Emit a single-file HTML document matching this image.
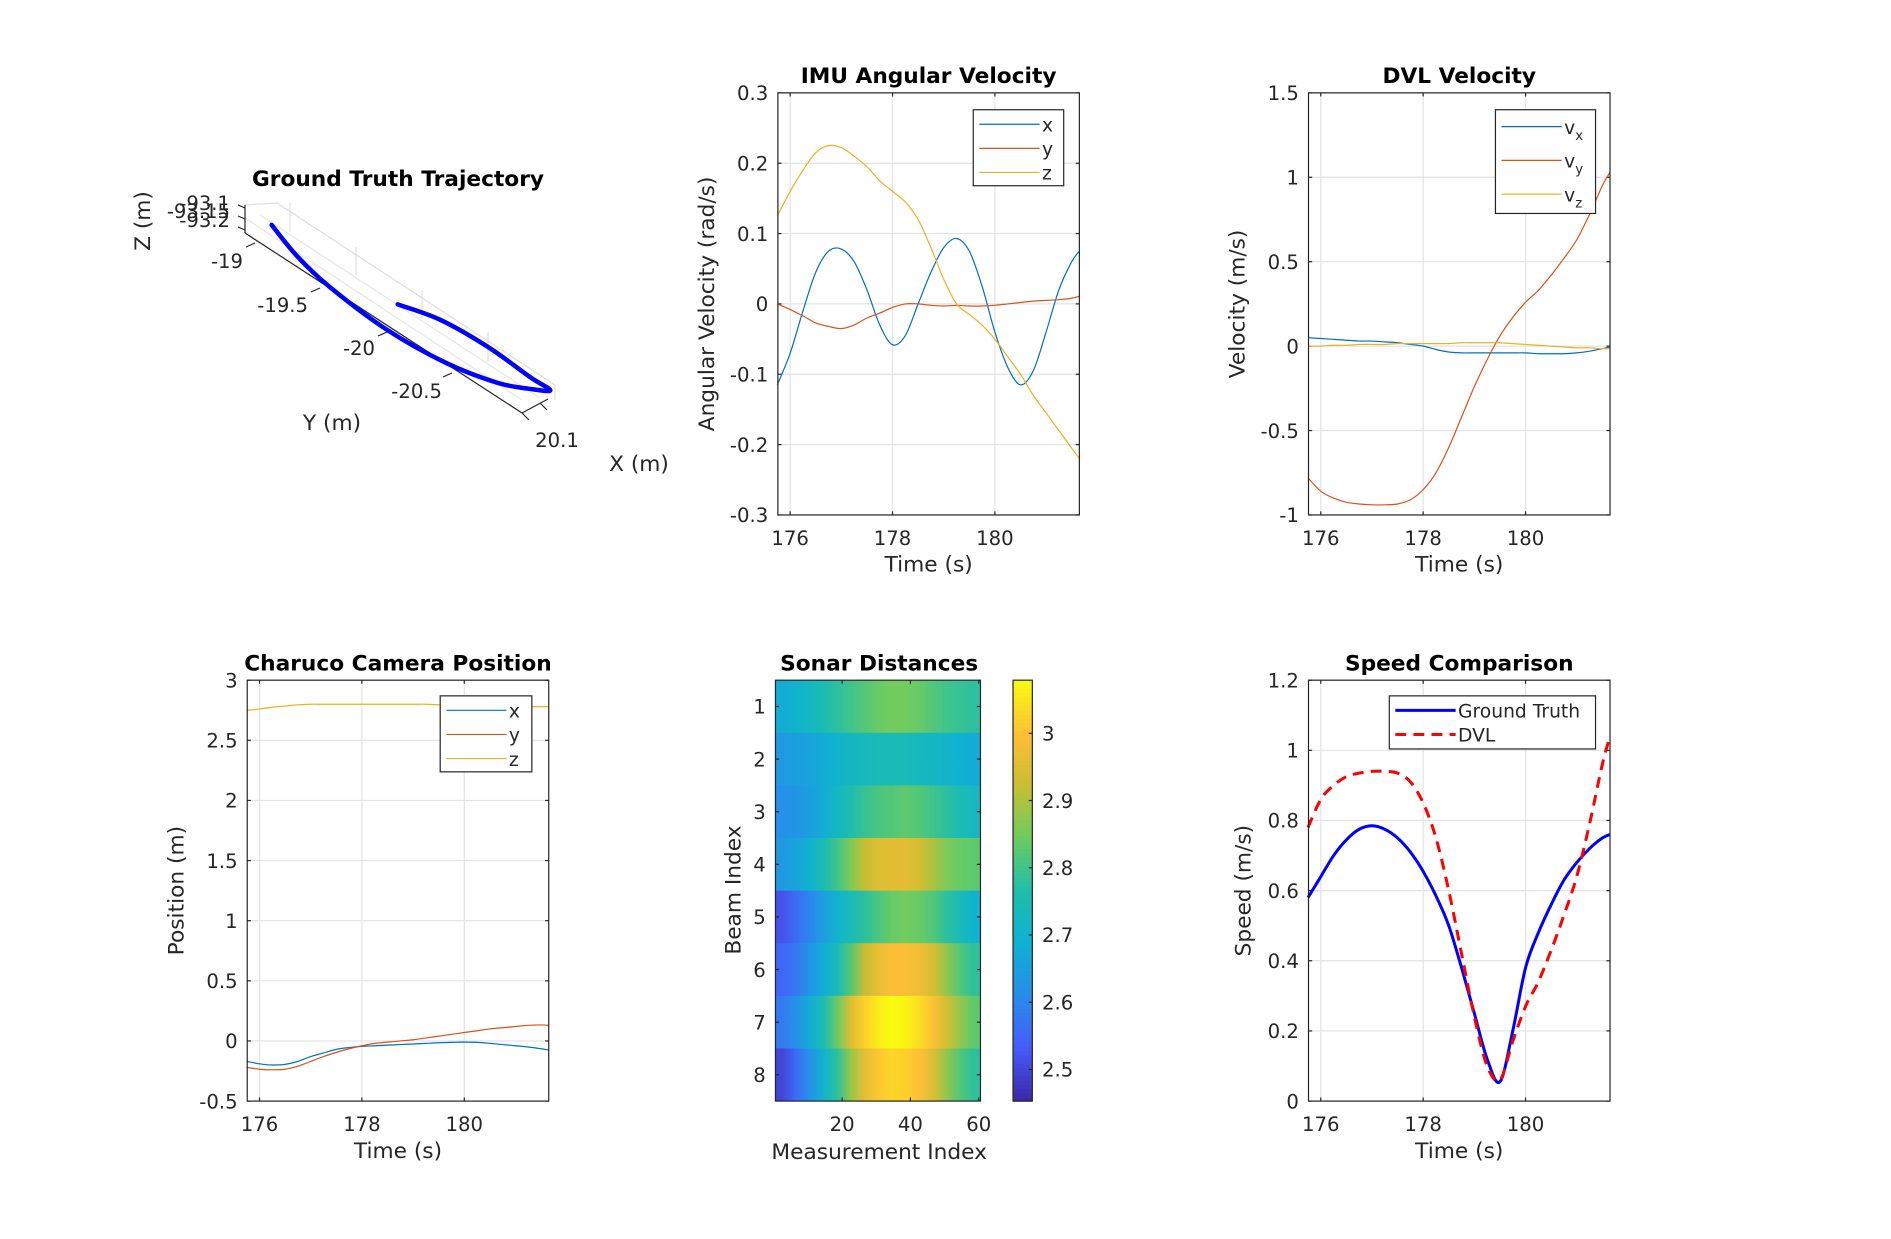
<!DOCTYPE html>
<html><head><meta charset="utf-8"><style>
html,body{margin:0;padding:0;background:#fff}
svg{display:block}
text{font-family:"DejaVu Sans","Liberation Sans",sans-serif;fill:#262626}
</style></head><body>
<svg id="fig" width="1891" height="1239" viewBox="0 0 1891 1239" xmlns="http://www.w3.org/2000/svg">
<rect width="1891" height="1239" fill="#fff"/>
<defs id="defs"></defs>
<g id="main" transform="scale(1.206)"></g>
<g id="real"></g>
</svg>
<script>
// ---------- data ----------
const timeS = [175.75,176,176.25,176.5,176.75,177,177.25,177.5,177.75,178,178.25,178.5,178.75,179,179.25,179.5,179.75,180,180.25,180.5,180.75,181,181.25,181.5,181.65];
const imuX = [-0.115,-0.07,-0.01,0.045,0.075,0.078,0.06,0.02,-0.03,-0.058,-0.045,0.0,0.045,0.08,0.093,0.075,0.025,-0.04,-0.09,-0.115,-0.095,-0.04,0.02,0.06,0.075];
const imuY = [0,-0.008,-0.017,-0.027,-0.032,-0.035,-0.03,-0.02,-0.013,-0.005,0,0,-0.002,-0.003,-0.002,-0.003,-0.003,-0.002,0,0.002,0.004,0.005,0.006,0.008,0.011];
const imuZ = [0.125,0.16,0.19,0.215,0.225,0.222,0.21,0.195,0.175,0.16,0.145,0.12,0.08,0.035,0.0,-0.015,-0.03,-0.05,-0.075,-0.1,-0.13,-0.155,-0.18,-0.205,-0.22];
const dvlVx = [0.05,0.045,0.04,0.035,0.03,0.03,0.025,0.02,0.01,0.0,-0.02,-0.035,-0.04,-0.04,-0.04,-0.04,-0.04,-0.04,-0.045,-0.045,-0.045,-0.04,-0.03,-0.015,-0.005];
const dvlVy = [-0.78,-0.86,-0.9,-0.925,-0.935,-0.94,-0.94,-0.935,-0.91,-0.85,-0.75,-0.6,-0.42,-0.24,-0.08,0.06,0.17,0.26,0.33,0.42,0.52,0.63,0.78,0.95,1.03];
const dvlVz = [0.0,0.0,0.005,0.005,0.01,0.01,0.01,0.015,0.015,0.015,0.015,0.015,0.02,0.02,0.02,0.02,0.015,0.01,0.005,0.0,-0.005,-0.01,-0.01,-0.015,-0.015];
const camX = [-0.17,-0.19,-0.2,-0.195,-0.17,-0.13,-0.1,-0.07,-0.055,-0.045,-0.04,-0.035,-0.03,-0.025,-0.02,-0.015,-0.012,-0.01,-0.012,-0.02,-0.03,-0.04,-0.05,-0.065,-0.075];
const camY = [-0.22,-0.235,-0.24,-0.235,-0.21,-0.17,-0.13,-0.095,-0.065,-0.04,-0.02,-0.01,0.0,0.01,0.025,0.04,0.055,0.07,0.085,0.1,0.11,0.12,0.13,0.133,0.13];
const camZ = [2.75,2.76,2.775,2.785,2.795,2.8,2.8,2.8,2.8,2.8,2.8,2.8,2.8,2.8,2.8,2.795,2.79,2.79,2.785,2.785,2.78,2.78,2.78,2.78,2.78];
const speedGT = [0.58,0.64,0.7,0.745,0.775,0.785,0.775,0.75,0.71,0.655,0.585,0.5,0.38,0.25,0.12,0.055,0.2,0.38,0.48,0.56,0.63,0.68,0.72,0.75,0.76];
const speedDVL = [0.78,0.86,0.9,0.925,0.935,0.94,0.94,0.935,0.91,0.85,0.75,0.6,0.42,0.24,0.1,0.06,0.17,0.27,0.34,0.43,0.53,0.64,0.79,0.96,1.04];
const timeTicks = [176,178,180];
const imuTicks = [0.3,0.2,0.1,0,-0.1,-0.2,-0.3];
const imuTickLabels = ['0.3','0.2','0.1','0','-0.1','-0.2','-0.3'];
const dvlTicks = [1.5,1,0.5,0,-0.5,-1];
const dvlTickLabels = ['1.5','1','0.5','0','-0.5','-1'];
const camTicks = [3,2.5,2,1.5,1,0.5,0,-0.5];
const camTickLabels = ['3','2.5','2','1.5','1','0.5','0','-0.5'];
const spdTicks = [1.2,1,0.8,0.6,0.4,0.2,0];
const spdTickLabels = ['1.2','1','0.8','0.6','0.4','0.2','0'];
// sonar: 8 beams x 15 samples (every 4 measurements)
const sonarRow1 = [2.68,2.7,2.72,2.75,2.78,2.8,2.82,2.84,2.85,2.85,2.84,2.82,2.8,2.79,2.78];
const sonarRow2 = [2.64,2.65,2.66,2.68,2.7,2.72,2.73,2.74,2.74,2.74,2.73,2.72,2.71,2.69,2.68];
const sonarRow3 = [2.62,2.63,2.65,2.68,2.72,2.76,2.79,2.81,2.82,2.83,2.82,2.8,2.78,2.75,2.73];
const sonarRow4 = [2.64,2.66,2.7,2.75,2.8,2.86,2.92,2.95,2.96,2.96,2.94,2.9,2.86,2.84,2.83];
const sonarRow5 = [2.52,2.56,2.6,2.65,2.7,2.74,2.78,2.81,2.84,2.85,2.84,2.82,2.78,2.74,2.7];
const sonarRow6 = [2.55,2.58,2.63,2.68,2.74,2.82,2.92,2.97,2.99,2.99,2.98,2.94,2.88,2.82,2.78];
const sonarRow7 = [2.58,2.62,2.68,2.75,2.84,2.95,3.02,3.06,3.08,3.07,3.04,3.0,2.94,2.88,2.83];
const sonarRow8 = [2.5,2.56,2.62,2.7,2.78,2.88,2.96,3.01,3.03,3.02,3.0,2.95,2.88,2.82,2.78];
const sonarRows = [sonarRow1,sonarRow2,sonarRow3,sonarRow4,sonarRow5,sonarRow6,sonarRow7,sonarRow8];
const cbarTicks = [2.5,2.6,2.7,2.8,2.9,3];
const sonarXTicks = [20,40,60];
// trajectory (m)
const trajY = [-19.02,-19.30,-19.60,-20.06,-20.48,-20.79,-20.95,-21.04,-20.89,-20.55,-20.21,-19.96];
const trajX = [20.14,20.03,19.96,19.92,19.96,20.06,20.17,20.26,20.26,20.28,20.25,20.16];

const NS='http://www.w3.org/2000/svg';
const main=document.getElementById('main');
const real=document.getElementById('real');
const defs=document.getElementById('defs');
function el(tag,attrs,parent){const e=document.createElementNS(NS,tag);for(const k in attrs)e.setAttribute(k,attrs[k]);(parent||main).appendChild(e);return e;}
function txt(s,attrs,parent){const t=el('text',attrs,parent);t.textContent=s;return t;}
const C1='#0072BD',C2='#D95319',C3='#EDB120';
const TF=16.3, LF=18, HF=18;

function axes(name,L,T,W,H,xmin,xmax,ymin,ymax,xt,xtl,yt,ytl){
  const g=el('g',{});
  
  
  const sx=v=>L+(v-xmin)/(xmax-xmin)*W, sy=v=>T+H-(v-ymin)/(ymax-ymin)*H;
  el('rect',{x:L,y:T,width:W,height:H,fill:'#fff'},g);
  xt.forEach(v=>el('line',{x1:sx(v),x2:sx(v),y1:T,y2:T+H,stroke:'#e3e3e3','stroke-width':1},g));
  yt.forEach(v=>el('line',{x1:L,x2:L+W,y1:sy(v),y2:sy(v),stroke:'#e3e3e3','stroke-width':1},g));
  xt.forEach((v,i)=>{el('line',{x1:sx(v),x2:sx(v),y1:T+H,y2:T+H-3,stroke:'#262626'},g);el('line',{x1:sx(v),x2:sx(v),y1:T,y2:T+3,stroke:'#262626'},g);
    const t=txt(xtl[i],{x:sx(v),y:T+H+25,'text-anchor':'middle','font-size':TF},g);
    
    });
  yt.forEach((v,i)=>{el('line',{x1:L,x2:L+3,y1:sy(v),y2:sy(v),stroke:'#262626'},g);el('line',{x1:L+W,x2:L+W-3,y1:sy(v),y2:sy(v),stroke:'#262626'},g);
    const t=txt(ytl[i],{x:L-8,y:sy(v)+6,'text-anchor':'end','font-size':TF},g);
    
    });
  return {g,sx,sy,L,T,W,H};
}
function frame(a){el('rect',{x:a.L,y:a.T,width:a.W,height:a.H,fill:'none',stroke:'#262626','stroke-width':1},a.g);}
function smoothPath(pts){
  let d='M'+pts[0][0].toFixed(2)+','+pts[0][1].toFixed(2);
  for(let i=0;i<pts.length-1;i++){
    const p0=pts[Math.max(0,i-1)],p1=pts[i],p2=pts[i+1],p3=pts[Math.min(pts.length-1,i+2)];
    const c1=[p1[0]+(p2[0]-p0[0])/6,p1[1]+(p2[1]-p0[1])/6],c2=[p2[0]-(p3[0]-p1[0])/6,p2[1]-(p3[1]-p1[1])/6];
    d+=` C${c1[0].toFixed(2)},${c1[1].toFixed(2)} ${c2[0].toFixed(2)},${c2[1].toFixed(2)} ${p2[0].toFixed(2)},${p2[1].toFixed(2)}`;
  }
  return d;
}
function series(a,xs,ys,color,w,name,dash){
  const p=el('path',{d:smoothPath(xs.map((x,i)=>[a.sx(x),a.sy(ys[i])])),fill:'none',stroke:color,'stroke-width':w,'stroke-linejoin':'round'},a.g);
  if(dash)p.setAttribute('stroke-dasharray',dash);
  
  
}
function labels(a,title,xl,yl,yx){
  const c=a.L+a.W/2;
  const t1=txt(title,{x:c,y:a.T-8,'text-anchor':'middle','font-size':HF,'font-weight':'bold',style:'fill:#000'},a.g);
  
  
  const t2=txt(xl,{x:c,y:a.T+a.H+47,'text-anchor':'middle','font-size':LF},a.g);
  
  
  const yy=a.T+a.H/2;
  const t3=txt(yl,{x:yx,y:yy,'text-anchor':'middle','font-size':LF,transform:`rotate(-90 ${yx} ${yy})`},a.g);
  
  
}
function legend(a,x,y,w,h,entries,rowH,lineW){
  const g=el('g',{},a.g);
  
  
  el('rect',{x,y,width:w,height:h,fill:'#fff',stroke:'#262626'},g);
  entries.forEach((e,i)=>{const yy=y+12+i*rowH+(rowH>25?2:0);
    const ln=el('line',{x1:x+5,x2:x+5+lineW,y1:yy,y2:yy,stroke:e.c,'stroke-width':e.w||1},g);
    if(e.d)ln.setAttribute('stroke-dasharray',e.d);
    
    
    const t=el('text',{x:x+lineW+7,y:yy+6,'font-size':15.5},g);
    
    
    t.innerHTML=e.t;});
}

// IMU
const xmn=175.76,xmx=181.65;
let a=axes('imu-angular-velocity-chart',645,77,250,350,xmn,xmx,-0.3,0.3,timeTicks,timeTicks.map(String),imuTicks,imuTickLabels);
series(a,timeS,imuX,C1,1,'imu-x-line');series(a,timeS,imuY,C2,1,'imu-y-line');series(a,timeS,imuZ,C3,1,'imu-z-line');
frame(a);labels(a,'IMU Angular Velocity','Time (s)','Angular Velocity (rad/s)',592);
legend(a,807,91,75,63,[{c:C1,t:'x'},{c:C2,t:'y'},{c:C3,t:'z'}],20,50);

// DVL
a=axes('dvl-velocity-chart',1085,77,250,350,xmn,xmx,-1,1.5,timeTicks,timeTicks.map(String),dvlTicks,dvlTickLabels);
series(a,timeS,dvlVx,C1,1,'dvl-vx-line');series(a,timeS,dvlVy,C2,1,'dvl-vy-line');series(a,timeS,dvlVz,C3,1,'dvl-vz-line');
frame(a);labels(a,'DVL Velocity','Time (s)','Velocity (m/s)',1032);
legend(a,1240,91,83,86,[{c:C1,t:'v<tspan font-size="11" dy="5">x</tspan>'},{c:C2,t:'v<tspan font-size="11" dy="5">y</tspan>'},{c:C3,t:'v<tspan font-size="11" dy="5">z</tspan>'}],28,50);

// Charuco
a=axes('charuco-camera-position-chart',205,564,250,349,xmn,xmx,-0.5,3,timeTicks,timeTicks.map(String),camTicks,camTickLabels);
series(a,timeS,camX,C1,1,'cam-x-line');series(a,timeS,camY,C2,1,'cam-y-line');series(a,timeS,camZ,C3,1,'cam-z-line');
frame(a);labels(a,'Charuco Camera Position','Time (s)','Position (m)',152);
legend(a,365,577,76,63,[{c:C1,t:'x'},{c:C2,t:'y'},{c:C3,t:'z'}],20,50);

// Speed
a=axes('speed-comparison-chart',1085,564,250,349,xmn,xmx,0,1.2,timeTicks,timeTicks.map(String),spdTicks,spdTickLabels);
series(a,timeS,speedGT,'#0000ff',2.5,'ground-truth-speed-line');series(a,timeS,speedDVL,'#ff0000',2.5,'dvl-speed-line','9,6');
frame(a);labels(a,'Speed Comparison','Time (s)','Speed (m/s)',1037);
legend(a,1152,577,171,44,[{c:'#0000ff',t:'Ground Truth',w:2.5},{c:'#ff0000',t:'DVL',w:2.5,d:'9,6'}],20,50);

// Sonar heatmap
function parula(t){
  const st=[[0,62,38,168],[0.13,70,92,250],[0.25,40,140,235],[0.38,15,177,210],[0.5,30,190,170],[0.63,110,204,95],[0.75,200,190,50],[0.87,254,190,55],[1,249,251,14]];
  t=Math.max(0,Math.min(1,t));
  for(let i=1;i<st.length;i++){if(t<=st[i][0]){const a0=st[i-1],b=st[i],f=(t-a0[0])/(b[0]-a0[0]);
    return `rgb(${Math.round(a0[1]+f*(b[1]-a0[1]))},${Math.round(a0[2]+f*(b[2]-a0[2]))},${Math.round(a0[3]+f*(b[3]-a0[3]))})`;}}
  return 'rgb(249,251,14)';
}
const cmin=2.453,cmax=3.079;
const hg=el('g',{});


const HL=643,HT=564,HW=170,HH=349;
const hx=v=>HL+(v-0.5)/60*HW, hy=v=>HT+(v-0.5)/8*HH;
sonarRows.forEach((row,r)=>{
  const gr=el('linearGradient',{id:'row'+r,x1:0,x2:1,y1:0,y2:0},defs);
  row.forEach((v,c)=>el('stop',{offset:((c*4+2.5-0.5)/60).toFixed(4),'stop-color':parula((v-cmin)/(cmax-cmin))},gr));
  const cell=el('rect',{x:HL,y:hy(r+0.5).toFixed(2),width:HW,height:(hy(r+1.5)-hy(r+0.5)+0.3).toFixed(2),fill:`url(#row${r})`},hg);
  
  
});
el('rect',{x:HL,y:HT,width:HW,height:HH,fill:'none',stroke:'#262626'},hg);
sonarXTicks.forEach(v=>{el('line',{x1:hx(v),x2:hx(v),y1:HT+HH,y2:HT+HH-3,stroke:'#262626'},hg);el('line',{x1:hx(v),x2:hx(v),y1:HT,y2:HT+3,stroke:'#262626'},hg);
  const t=txt(String(v),{x:hx(v),y:HT+HH+25,'text-anchor':'middle','font-size':TF},hg);
  
  });
for(let b=1;b<=8;b++){el('line',{x1:HL,x2:HL+3,y1:hy(b),y2:hy(b),stroke:'#262626'},hg);el('line',{x1:HL+HW,x2:HL+HW-3,y1:hy(b),y2:hy(b),stroke:'#262626'},hg);
  const t=txt(String(b),{x:HL-8,y:hy(b)+6,'text-anchor':'end','font-size':TF},hg);
  
  }
let tt=txt('Sonar Distances',{x:729,y:556,'text-anchor':'middle','font-size':HF,'font-weight':'bold',style:'fill:#000'},hg);


tt=txt('Measurement Index',{x:729,y:961,'text-anchor':'middle','font-size':LF},hg);


tt=txt('Beam Index',{x:614,y:738,'text-anchor':'middle','font-size':LF,transform:'rotate(-90 614 738)'},hg);


// colorbar
const cb=el('g',{});


const CL=840,CW=16;
const cy=v=>HT+HH-(v-cmin)/(cmax-cmin)*HH;
for(let i=0;i<100;i++){const v0=cmin+(cmax-cmin)*i/100,v1=cmin+(cmax-cmin)*(i+1)/100;
  el('rect',{x:CL,y:cy(v1).toFixed(2),width:CW,height:(cy(v0)-cy(v1)+0.5).toFixed(2),fill:parula((i+0.5)/100)},cb);}
el('rect',{x:CL,y:HT,width:CW,height:HH,fill:'none',stroke:'#262626'},cb);
cbarTicks.forEach(v=>{el('line',{x1:CL+CW,x2:CL+CW-3,y1:cy(v),y2:cy(v),stroke:'#262626'},cb);
  const t=txt(String(v),{x:CL+CW+8,y:cy(v)+6,'font-size':TF},cb);
  
  });

// 3D trajectory (real pixel coords)
const tg=el('g',{},real);


const px=(X,Y)=>255+(-19-Y)*132+(X-20)*100, py=(X,Y)=>233+(-19-Y)*86-(X-20)*70;
[[277,203,555,385,'#dedede'],[260,215,540,398,'#e6e6e6'],[245,218,522,400,'#e6e6e6'],[245,205,277,203,'#dedede'],
 [290,203,290,232,'#dedede'],[356,247,356,275,'#dedede'],[422,290,422,318,'#dedede'],[488,332,488,362,'#dedede'],[555,385,555,400,'#dedede'],
 [245,205,245,233,'#262626'],[245,233,522,413,'#262626'],[522,413,548,399,'#262626']].forEach(l=>{
  el('line',{x1:l[0],y1:l[1],x2:l[2],y2:l[3],stroke:l[4],'stroke-width':1.2},tg);});
[[255,243],[320,288],[387,332],[452,373]].forEach(t=>el('line',{x1:t[0],y1:t[1],x2:t[0]-9,y2:t[1]+4,stroke:'#262626','stroke-width':1.2},tg));
el('line',{x1:522,y1:413,x2:529,y2:420,stroke:'#262626','stroke-width':1.2},tg);
el('line',{x1:540,y1:403,x2:547,y2:410,stroke:'#262626','stroke-width':1.2},tg);
[[245,208],[245,219],[245,230]].forEach(t=>el('line',{x1:t[0],y1:t[1],x2:t[0]-7,y2:t[1]-3,stroke:'#262626','stroke-width':1.2},tg));
const tl=el('path',{d:smoothPath(trajY.map((Y,i)=>[px(trajX[i],Y),py(trajX[i],Y)])),fill:'none',stroke:'#0000ff','stroke-width':4.5,'stroke-linejoin':'round','stroke-linecap':'round'},tg);


[['-93.1',230,210],['-93.15',230,218],['-93.2',230,227],['-19',243,268],['-19.5',308,312],['-20',375,355],['-20.5',442,398]].forEach(t=>{
  const e=txt(t[0],{x:t[1],y:t[2],'text-anchor':'end','font-size':19.6},tg);
  
  });
tt=txt('20.1',{x:557,y:447,'text-anchor':'middle','font-size':19.6},tg);


tt=txt('Ground Truth Trajectory',{x:398,y:186,'text-anchor':'middle','font-size':21.7,'font-weight':'bold',style:'fill:#000'},tg);


tt=txt('Y (m)',{x:332,y:430,'text-anchor':'middle','font-size':21.7},tg);


tt=txt('X (m)',{x:639,y:471,'text-anchor':'middle','font-size':21.7},tg);


tt=txt('Z (m)',{x:150,y:221,'text-anchor':'middle','font-size':21.7,transform:'rotate(-90 150 221)'},tg);


</script>
</body></html>
